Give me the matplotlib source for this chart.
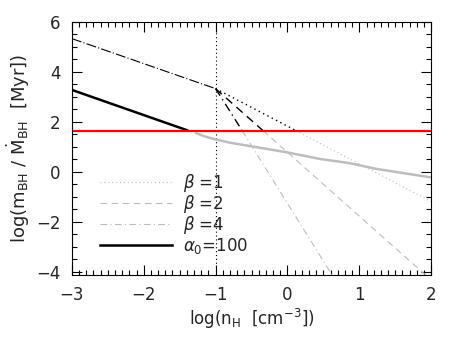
import numpy as np
import matplotlib
matplotlib.use("Agg")
import matplotlib.pyplot as plt
from matplotlib.ticker import MultipleLocator

# ------------------------------------------------------------
# data (log n_H vs log timescale)
# ------------------------------------------------------------
t_red = 1.65          # horizontal red line
n_crit = -1.0         # vertical dotted line

# common part of the beta curves, left of n_crit
shared_x = [-3.0, -1.0]
shared_y = [5.33, 3.33]

# beta branches: [start, crossing with red line, end]
beta1_x = [-1.0, 0.12, 2.0]
beta1_y = [3.33, 1.65, -1.19]
beta2_x = [-1.0, -0.34, 2.0]
beta2_y = [3.33, 1.65, -4.32]
beta4_x = [-1.0, -0.63, 1.0]
beta4_y = [3.33, 1.65, -5.87]

# alpha0 = 100
alpha_x = [-3.0, -1.38]
alpha_y = [3.28, 1.65]
alpha_gray_x = [-1.27, -1.15, -1.0, -0.8, 0.0, 0.45, 0.87, 1.22, 2.0]
alpha_gray_y = [1.55, 1.42, 1.30, 1.17, 0.78, 0.52, 0.35, 0.13, -0.22]

legend_labels = [r'$\beta$ =1', r'$\beta$ =2', r'$\beta$ =4', r'$\alpha_0$=100']

GRAY = '#bdbdbd'
TXT = '#262626'

fig = plt.figure(figsize=(4.52, 3.47), dpi=100)
ax = fig.add_axes([0.159, 0.2075, 0.795, 0.7295])

ax.axvline(n_crit, color='k', ls=(0, (1, 2.5)), lw=0.8)

ax.plot(shared_x, shared_y, color='k', lw=0.8, ls=(0, (9, 2, 1, 2)))

styles = [(0, (1, 2.5)), (0, (6, 4)), (0, (6, 3, 1, 3))]
for bx, by, st in zip([beta1_x, beta2_x, beta4_x], [beta1_y, beta2_y, beta4_y], styles):
    ax.plot(bx[:2], by[:2], color='k', lw=1.0, ls=st)
    ax.plot(bx[1:], by[1:], color=GRAY, lw=0.8, ls=st)

ax.plot(alpha_x, alpha_y, color='k', lw=1.8, solid_capstyle='butt')
ax.plot(alpha_gray_x, alpha_gray_y, color=GRAY, lw=1.8)

ax.axhline(t_red, color='#ff0000', lw=1.6)

# legend
handles = [
    plt.Line2D([], [], color=GRAY, lw=0.8, ls=styles[0]),
    plt.Line2D([], [], color=GRAY, lw=0.8, ls=styles[1]),
    plt.Line2D([], [], color=GRAY, lw=0.8, ls=styles[2]),
    plt.Line2D([], [], color='k', lw=1.8),
]
leg = ax.legend(handles, legend_labels, loc='upper left', bbox_to_anchor=(0.06, 0.435),
                frameon=False, fontsize=12, handlelength=4.3, handletextpad=0.65,
                labelspacing=-0.04, borderaxespad=0.0)
for t in leg.get_texts():
    t.set_color(TXT)

ax.set_xlim(-3, 2)
ax.set_ylim(-4.12, 6.0)
ax.xaxis.set_major_locator(MultipleLocator(1))
ax.xaxis.set_minor_locator(MultipleLocator(0.1))
ax.yaxis.set_major_locator(MultipleLocator(2))
ax.yaxis.set_minor_locator(MultipleLocator(0.5))
ax.tick_params(which='both', direction='in', top=True, right=True, width=0.8)
ax.tick_params(which='major', length=7, labelsize=12, pad=8, labelcolor=TXT)
ax.tick_params(which='minor', length=3.5)
for s in ax.spines.values():
    s.set_linewidth(0.8)

ax.set_xlabel(r'log(n$_\mathregular{H}$  [cm$^{-3}$])', fontsize=12, labelpad=2, color=TXT)
ax.set_ylabel(r'log(m$_\mathregular{BH}$ / $\dot{\mathregular{M}}_\mathregular{BH}$  [Myr])',
              fontsize=13, labelpad=3, color=TXT)

fig.savefig('out.png', dpi=100)
